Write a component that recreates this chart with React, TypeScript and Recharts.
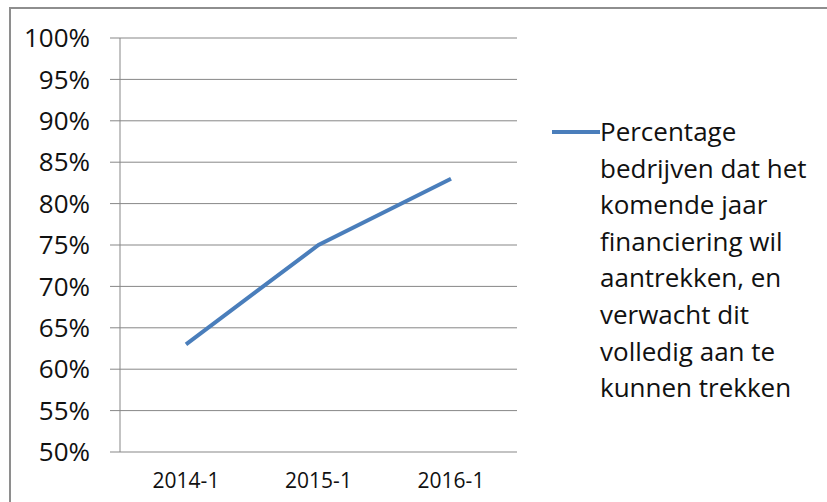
import React from 'react';
import { LineChart, Line, XAxis, YAxis, CartesianGrid, Legend } from 'recharts';

const periods = ['2014-1', '2015-1', '2016-1'];
const percentages = [63, 75, 83];
const yTicks = [50, 55, 60, 65, 70, 75, 80, 85, 90, 95, 100];
const boundaryTicks = [0, 1, 2, 3];
const seriesName = 'Percentage bedrijven dat het komende jaar financiering wil aantrekken, en verwacht dit volledig aan te kunnen trekken';
const legendLines = [
  'Percentage',
  'bedrijven dat het',
  'komende jaar',
  'financiering wil',
  'aantrekken, en',
  'verwacht dit',
  'volledig aan te',
  'kunnen trekken',
];

const LINE_COLOR = '#4a7ebb';
const AXIS_COLOR = '#878787';
const TEXT_COLOR = '#111';
const FONT = "'Open Sans', sans-serif";

const chartData = periods.map((p, i) => ({ period: p, value: percentages[i] }));

const renderLegend = () => (
  <div style={{ position: 'relative', width: 270, fontFamily: FONT, fontSize: 26, lineHeight: '36.6px', color: TEXT_COLOR }}>
    <div style={{ position: 'absolute', left: 4, top: 17, width: 48, height: 4, background: LINE_COLOR }} />
    <div style={{ paddingLeft: 52 }}>
      {legendLines.map(l => (
        <div key={l} style={{ whiteSpace: 'nowrap' }}>{l}</div>
      ))}
    </div>
  </div>
);

const App: React.FC = () => {
  return (
    <div style={{ position: 'fixed', left: 0, top: 0, width: 827, height: 502, background: '#fff', overflow: 'hidden' }}>
      <div style={{ position: 'absolute', left: 9, top: 7, width: 840, height: 493, border: '2px solid #8e8e8e' }} />
      <LineChart
        width={827}
        height={502}
        data={chartData}
        margin={{ top: 38, right: 40, left: 0, bottom: 0 }}
      >
        <CartesianGrid vertical={false} stroke={AXIS_COLOR} strokeWidth={1} />
        <XAxis
          xAxisId="bounds"
          type="number"
          domain={[0, 3]}
          ticks={boundaryTicks}
          tick={false}
          tickSize={6}
          height={0}
          stroke={AXIS_COLOR}
        />
        <XAxis
          dataKey="period"
          height={50}
          padding={{ left: 66, right: 66 }}
          tickLine={false}
          axisLine={false}
          tickSize={0}
          tickMargin={21}
          tick={{ fill: TEXT_COLOR, fontSize: 21, fontFamily: FONT }}
        />
        <YAxis
          domain={[50, 100]}
          ticks={yTicks}
          width={120}
          interval={0}
          tickSize={10}
          tickMargin={20}
          stroke={AXIS_COLOR}
          tickFormatter={(v: number) => `${v}%`}
          tick={{ fill: TEXT_COLOR, fontSize: 26, fontFamily: FONT }}
        />
        <Legend
          layout="vertical"
          align="right"
          verticalAlign="top"
          content={renderLegend}
          wrapperStyle={{ left: 548, top: 113, width: 270 }}
        />
        <Line
          type="linear"
          dataKey="value"
          name={seriesName}
          stroke={LINE_COLOR}
          strokeWidth={4}
          dot={false}
          activeDot={false}
          isAnimationActive={false}
        />
      </LineChart>
    </div>
  );
};

export default App;
